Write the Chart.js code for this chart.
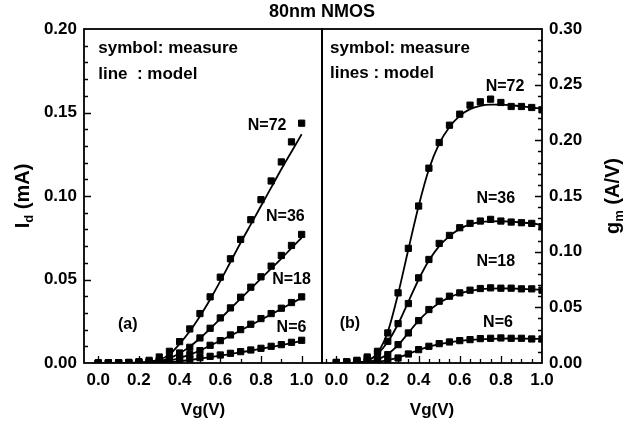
<!DOCTYPE html>
<html><head><meta charset="utf-8">
<script src="https://cdn.jsdelivr.net/npm/chart.js@4/dist/chart.umd.min.js"></script>
<style>
html,body{margin:0;padding:0;background:#fff;}
#wrap{position:relative;width:632px;height:430px;background:#fff;}
#wrap canvas{position:absolute;left:0;top:0;}
</style></head><body>
<div id="wrap"><canvas id="cL" width="632" height="430"></canvas><canvas id="cR" width="632" height="430"></canvas></div>
<script>
// ---------- data ----------
const vgPoints = [0.00,0.05,0.10,0.15,0.20,0.25,0.30,0.35,0.40,0.45,0.50,0.55,0.60,0.65,0.70,0.75,0.80,0.85,0.90,0.95,1.00];
const seriesNames = ['N=72','N=36','N=18','N=6'];

// (a) drain current Id (mA) : measured
const idMeasN72 = [0,0.0001,0.0002,0.0004,0.0008,0.0016,0.0036,0.0070,0.0128,0.0204,0.0296,0.0396,0.0514,0.0624,0.0740,0.0858,0.0978,0.1090,0.1204,0.1324,0.1436];
const idMeasN36 = [0,0,0.0001,0.0002,0.0003,0.0007,0.0015,0.0030,0.0060,0.0094,0.0150,0.0208,0.0270,0.0330,0.0394,0.0454,0.0516,0.0580,0.0644,0.0704,0.0770];
const idMeasN18 = [0,0,0,0.0001,0.0002,0.0004,0.0008,0.0015,0.0030,0.0050,0.0074,0.0106,0.0134,0.0168,0.0200,0.0232,0.0266,0.0296,0.0328,0.0362,0.0396];
const idMeasN6  = [0,0,0,0,0.0001,0.0002,0.0004,0.0008,0.0016,0.0024,0.0032,0.0040,0.0048,0.0058,0.0068,0.0078,0.0088,0.0100,0.0110,0.0124,0.0136];
// (a) model
const idModelN72 = [0,0,0,0.0001,0.0003,0.0008,0.0020,0.0050,0.0115,0.0190,0.0280,0.0380,0.0490,0.0605,0.0720,0.0830,0.0940,0.1050,0.1160,0.1265,0.1370];
const idModelN36 = [0,0,0,0.0001,0.0002,0.0005,0.0012,0.0028,0.0058,0.0098,0.0148,0.0205,0.0265,0.0325,0.0385,0.0445,0.0505,0.0565,0.0625,0.0688,0.0750];
const idModelN18 = [0,0,0,0,0.0001,0.0003,0.0007,0.0015,0.0030,0.0050,0.0075,0.0104,0.0133,0.0163,0.0195,0.0227,0.0259,0.0291,0.0324,0.0357,0.0390];
const idModelN6  = [0,0,0,0,0,0.0001,0.0003,0.0006,0.0011,0.0018,0.0026,0.0035,0.0044,0.0054,0.0064,0.0074,0.0085,0.0096,0.0107,0.0119,0.0132];

// (b) transconductance gm (A/V) : measured
const gmMeasN72 = [0.0005,0.0010,0.0024,0.0054,0.0105,0.0270,0.0630,0.1030,0.1410,0.1750,0.1980,0.2136,0.2235,0.2316,0.2346,0.2370,0.2340,0.2304,0.2304,0.2295,0.2274];
const gmMeasN36 = [0.0005,0.0010,0.0020,0.0040,0.0090,0.0195,0.0354,0.0534,0.0765,0.0930,0.1074,0.1146,0.1215,0.1254,0.1275,0.1290,0.1275,0.1266,0.1260,0.1254,0.1224];
const gmMeasN18 = [0.0003,0.0005,0.0010,0.0020,0.0030,0.0075,0.0165,0.0270,0.0381,0.0480,0.0555,0.0600,0.0630,0.0654,0.0669,0.0675,0.0672,0.0672,0.0666,0.0666,0.0654];
const gmMeasN6  = [0.0002,0.0003,0.0005,0.0008,0.0010,0.0021,0.0045,0.0081,0.0120,0.0150,0.0174,0.0189,0.0201,0.0210,0.0219,0.0222,0.0225,0.0222,0.0222,0.0216,0.0216];
// (b) model
const gmModelN72 = [0,0,0.0005,0.0020,0.0090,0.0280,0.0620,0.1020,0.1410,0.1740,0.1970,0.2120,0.2220,0.2280,0.2310,0.2320,0.2320,0.2315,0.2305,0.2295,0.2285];
const gmModelN36 = [0,0,0.0005,0.0020,0.0080,0.0190,0.0350,0.0550,0.0750,0.0920,0.1050,0.1140,0.1205,0.1245,0.1265,0.1272,0.1273,0.1270,0.1262,0.1253,0.1242];
const gmModelN18 = [0,0,0.0003,0.0010,0.0030,0.0080,0.0160,0.0270,0.0380,0.0470,0.0540,0.0590,0.0625,0.0648,0.0662,0.0668,0.0670,0.0669,0.0666,0.0662,0.0657];
const gmModelN6  = [0,0,0.0001,0.0003,0.0010,0.0025,0.0048,0.0082,0.0117,0.0147,0.0170,0.0186,0.0198,0.0207,0.0213,0.0217,0.0219,0.0220,0.0219,0.0218,0.0216];

// tick labels
const xTickLabels  = ['0.0','0.2','0.4','0.6','0.8','1.0'];
const idTickLabels = ['0.00','0.05','0.10','0.15','0.20'];
const gmTickLabels = ['0.00','0.05','0.10','0.15','0.20','0.25','0.30'];

// ---------- helpers ----------
const FONT = '"Liberation Sans", Arial, sans-serif';
const toXY = (xs, ys) => xs.map((x, i) => ({x, y: ys[i]}));

function makeDatasets(meas, model) {
  const ds = [];
  meas.forEach((m, i) => {
    ds.push({label: seriesNames[i] + ' measure', data: toXY(vgPoints, m), showLine: false,
      pointStyle: 'rect', pointRadius: 4.4, pointHoverRadius: 4.4, pointBackgroundColor: '#000',
      pointBorderColor: '#000', pointBorderWidth: 1});
    ds.push({label: seriesNames[i] + ' model', data: toXY(vgPoints, model[i]), showLine: true,
      pointRadius: 0, borderColor: '#000', borderWidth: 1.8, cubicInterpolationMode: 'monotone', fill: false});
  });
  return ds;
}

function panelPlugin(cfg) {
  return {
    id: 'panel_' + cfg.name,
    afterDraw(chart) {
      const {ctx, chartArea: a} = chart;
      const xs = chart.scales.x, ys = chart.scales.y;
      ctx.save();
      // frame
      ctx.strokeStyle = '#000';
      ctx.lineWidth = 1.8;
      ctx.strokeRect(a.left, a.top, a.right - a.left, a.bottom - a.top);
      // inward ticks
      ctx.lineWidth = 1.3;
      ctx.beginPath();
      const eps = 1e-6;
      for (let k = Math.ceil((xs.min) / cfg.xMinor - eps); k * cfg.xMinor <= xs.max + eps; k++) {
        const v = k * cfg.xMinor;
        const major = Math.abs(v / cfg.xMajor - Math.round(v / cfg.xMajor)) < 1e-4;
        const px = Math.round(xs.getPixelForValue(v)) + 0.5;
        if (px <= a.left + 1 || px >= a.right - 1) continue;
        ctx.moveTo(px, a.bottom);
        ctx.lineTo(px, a.bottom - (major ? 7 : 4));
      }
      for (let k = Math.ceil(ys.min / cfg.yMinor - eps); k * cfg.yMinor <= ys.max + eps; k++) {
        const v = k * cfg.yMinor;
        const major = Math.abs(v / cfg.yMajor - Math.round(v / cfg.yMajor)) < 1e-4;
        const py = Math.round(ys.getPixelForValue(v)) + 0.5;
        if (py <= a.top + 1 || py >= a.bottom - 1) continue;
        const len = major ? 7 : 4;
        if (cfg.yRight) { ctx.moveTo(a.right, py); ctx.lineTo(a.right - len, py); }
        else { ctx.moveTo(a.left, py); ctx.lineTo(a.left + len, py); }
      }
      ctx.stroke();
      // notes
      ctx.fillStyle = '#000';
      ctx.textBaseline = 'middle';
      cfg.notes.forEach(n => {
        ctx.font = 'bold ' + (n.size || 16) + 'px ' + FONT;
        ctx.textAlign = n.align || 'center';
        ctx.fillText(n.text, xs.getPixelForValue(n.x), ys.getPixelForValue(n.y));
      });
      // y title with subscript
      const t = cfg.yTitle;
      ctx.translate(t.px, (a.top + a.bottom) / 2);
      ctx.rotate(-Math.PI / 2);
      const big = 'bold 20px ' + FONT, small = 'bold 13px ' + FONT;
      ctx.font = big; const w1 = ctx.measureText(t.main).width;
      ctx.font = small; const w2 = ctx.measureText(t.sub).width;
      ctx.font = big; const w3 = ctx.measureText(t.rest).width;
      let sx = -(w1 + w2 + w3) / 2;
      ctx.textAlign = 'left'; ctx.textBaseline = 'alphabetic';
      ctx.font = big; ctx.fillText(t.main, sx, 7);
      ctx.font = small; ctx.fillText(t.sub, sx + w1, 11);
      ctx.font = big; ctx.fillText(t.rest, sx + w1 + w2, 7);
      ctx.restore();
      if (cfg.title) {
        ctx.save();
        ctx.font = 'bold 18px ' + FONT;
        ctx.fillStyle = '#000'; ctx.textAlign = 'center'; ctx.textBaseline = 'middle';
        ctx.fillText(cfg.title, a.right, 12);
        ctx.restore();
      }
    }
  };
}

function makeChart(id, cfg) {
  return new Chart(document.getElementById(id), {
    type: 'scatter',
    data: {datasets: makeDatasets(cfg.meas, cfg.model)},
    options: {
      responsive: false, animation: false, events: [],
      layout: {padding: cfg.padding},
      plugins: {legend: {display: false}, tooltip: {enabled: false}},
      scales: {
        x: {
          type: 'linear', position: 'bottom', min: cfg.xMin, max: cfg.xMax,
          grid: {display: false, drawTicks: false}, border: {display: false},
          afterBuildTicks: s => { s.ticks = xTickLabels.map(l => ({value: parseFloat(l)})); },
          ticks: {autoSkip: false, maxRotation: 0, padding: 7, color: '#000',
            font: {family: FONT, size: 17, weight: 'bold'},
            callback: (v) => xTickLabels.find(l => Math.abs(parseFloat(l) - v) < 1e-6)},
          title: {display: true, text: 'Vg(V)', color: '#000', font: {family: FONT, size: 17, weight: 'bold'},
            padding: {top: 0, bottom: 9}},
          afterFit: s => { s.height = 67; }
        },
        y: {
          type: 'linear', position: cfg.yRight ? 'right' : 'left', min: 0, max: cfg.yMax,
          grid: {display: false, drawTicks: false}, border: {display: false},
          afterBuildTicks: s => { s.ticks = cfg.yLabels.map(l => ({value: parseFloat(l)})); },
          ticks: {autoSkip: false, padding: 7, color: '#000',
            font: {family: FONT, size: 17, weight: 'bold'},
            callback: (v) => cfg.yLabels.find(l => Math.abs(parseFloat(l) - v) < 1e-6)},
          afterFit: s => { s.width = cfg.yWidth; }
        }
      }
    },
    plugins: [panelPlugin(cfg)]
  });
}

makeChart('cL', {
  name: 'a', meas: [idMeasN72, idMeasN36, idMeasN18, idMeasN6],
  model: [idModelN72, idModelN36, idModelN18, idModelN6],
  xMin: -0.07, xMax: 1.1, yMax: 0.20, yLabels: idTickLabels, yRight: false, yWidth: 84,
  padding: {left: 0, right: 310, top: 29, bottom: 0},
  xMajor: 0.2, xMinor: 0.1, yMajor: 0.05, yMinor: 0.01,
  yTitle: {px: 22, main: 'I', sub: 'd', rest: ' (mA)'},
  title: '80nm NMOS',
  notes: [
    {text: 'symbol: measure', x: 0.0, y: 0.1886, align: 'left', size: 17},
    {text: 'line  : model', x: 0.0, y: 0.173, align: 'left', size: 17},
    {text: 'N=72', x: 0.83, y: 0.142},
    {text: 'N=36', x: 0.92, y: 0.0874},
    {text: 'N=18', x: 0.95, y: 0.0497},
    {text: 'N=6', x: 0.95, y: 0.021},
    {text: '(a)', x: 0.145, y: 0.023}
  ]
});

makeChart('cR', {
  name: 'b', meas: [gmMeasN72, gmMeasN36, gmMeasN18, gmMeasN6],
  model: [gmModelN72, gmModelN36, gmModelN18, gmModelN6],
  xMin: -0.07, xMax: 1.0, yMax: 0.30, yLabels: gmTickLabels, yRight: true, yWidth: 90,
  padding: {left: 322, right: 0, top: 29, bottom: 0},
  xMajor: 0.2, xMinor: 0.05, yMajor: 0.05, yMinor: 0.01,
  yTitle: {px: 612, main: 'g', sub: 'm', rest: ' (A/V)'},
  notes: [
    {text: 'symbol: measure', x: -0.031, y: 0.283, align: 'left', size: 17},
    {text: 'lines : model', x: -0.031, y: 0.26, align: 'left', size: 17},
    {text: 'N=72', x: 0.82, y: 0.248},
    {text: 'N=36', x: 0.775, y: 0.148},
    {text: 'N=18', x: 0.775, y: 0.0907},
    {text: 'N=6', x: 0.786, y: 0.036},
    {text: '(b)', x: 0.066, y: 0.035}
  ]
});
</script>
</body></html>
